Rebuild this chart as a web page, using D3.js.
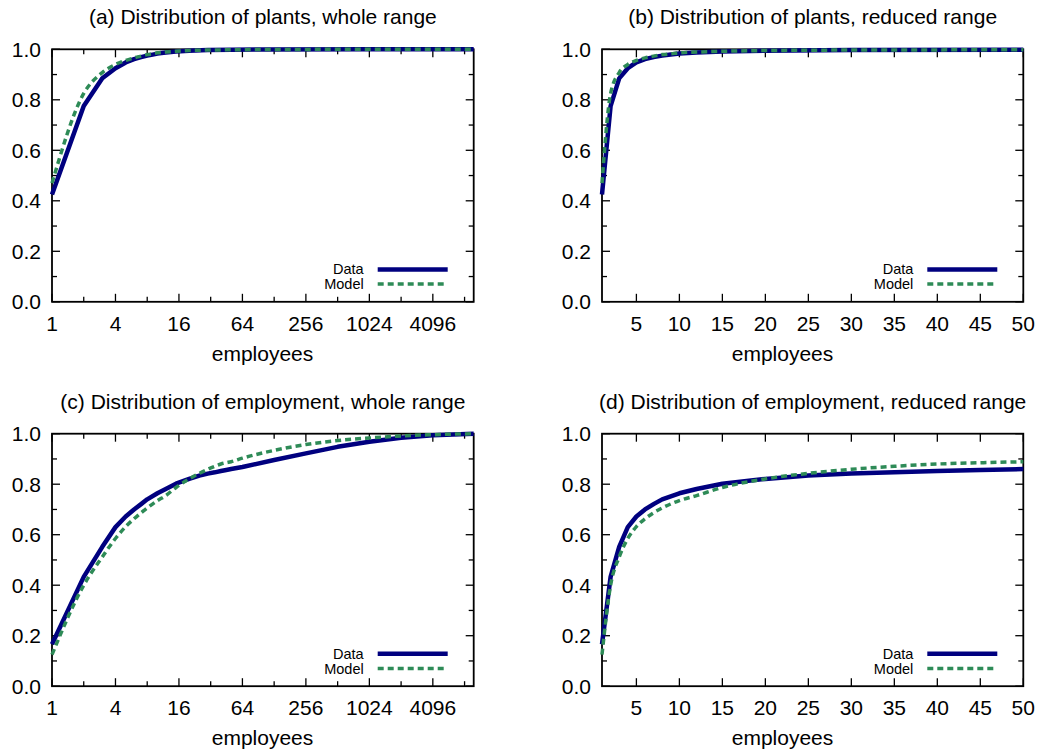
<!DOCTYPE html>
<html>
<head>
<meta charset="utf-8">
<script src="https://cdn.jsdelivr.net/npm/d3@7"></script>
<style>
body { margin: 0; background: #fff; }
text { font-family: "Liberation Sans", Arial, sans-serif; fill: #000; }
</style>
</head>
<body>
<div id="chart"></div>
<script>
// cumulative share of plants by plant size
var plantX     = [1, 2, 3, 4, 5, 6, 7, 8, 9, 10, 12, 15, 20, 30, 50, 100, 1000, 10000];
var plantData  = [0.425, 0.775, 0.885, 0.925, 0.948, 0.961, 0.969, 0.975, 0.979, 0.983, 0.987, 0.991, 0.994, 0.997, 0.998, 0.9993, 0.9999, 1];
var plantModel = [0.47, 0.825, 0.908, 0.94, 0.956, 0.966, 0.973, 0.979, 0.982, 0.986, 0.989, 0.992, 0.995, 0.997, 0.998, 0.9993, 0.9999, 1];

// cumulative share of employment by plant size
var empX     = [1, 2, 3, 4, 5, 6, 7, 8, 10, 12, 15, 20, 25, 30, 35, 40, 45, 50, 64, 128, 256, 512, 1024, 2048, 4096, 10000];
var empData  = [0.166, 0.433, 0.552, 0.630, 0.672, 0.700, 0.721, 0.740, 0.764, 0.781, 0.802, 0.821, 0.834, 0.842, 0.847, 0.852, 0.856, 0.860, 0.868, 0.896, 0.922, 0.948, 0.968, 0.984, 0.994, 1];
var empModel = [0.125, 0.400, 0.512, 0.585, 0.632, 0.663, 0.687, 0.706, 0.735, 0.755, 0.787, 0.821, 0.843, 0.859, 0.871, 0.880, 0.885, 0.889, 0.903, 0.934, 0.957, 0.973, 0.983, 0.991, 0.996, 1];

var logTicks  = [1, 4, 16, 64, 256, 1024, 4096];
var logMinor  = [2, 8, 32, 128, 512, 2048, 8192];
var linTicks  = [5, 10, 15, 20, 25, 30, 35, 40, 45, 50];
var yTicks    = [0, 0.2, 0.4, 0.6, 0.8, 1.0];
var yMinor    = [0.1, 0.3, 0.5, 0.7, 0.9];
var seriesNames = ["Data", "Model"];

var titles = [
	"(a) Distribution of plants, whole range",
	"(b) Distribution of plants, reduced range",
	"(c) Distribution of employment, whole range",
	"(d) Distribution of employment, reduced range"
];

var w = 1040, h = 756;
var navy = "#00007f", green = "#2e8b57";

// no d3-selection-multi here, so a tiny stand-in
function attrs(sel, o){
	for (var k in o) sel.attr(k, o[k]);
	return sel;
}

var svg = d3.select("#chart").append("svg")
	.attr("width", w)
	.attr("height", h);

var panels = [
	{col: 0, top: 49.3,  log: true,  x: plantX, a: plantData, b: plantModel},
	{col: 1, top: 49.3,  log: false, x: plantX, a: plantData, b: plantModel},
	{col: 0, top: 433.7, log: true,  x: empX,   a: empData,   b: empModel},
	{col: 1, top: 433.7, log: false, x: empX,   a: empData,   b: empModel}
];

panels.forEach(function(p, i){
	var left = p.col ? 602 : 52,
		right = p.col ? 1023.3 : 473.7,
		top = p.top,
		bottom = top + 252.5;

	var xScale = p.log
		? d3.scaleLog().base(2).domain([1, 10000]).range([left, right])
		: d3.scaleLinear().domain([1, 50]).range([left, right]);
	var yScale = d3.scaleLinear().domain([0, 1]).range([bottom, top]);

	var g = svg.append("g");

	// ticks inward on all four sides
	var major = p.log ? logTicks : linTicks;
	var minor = p.log ? logMinor : [];
	var tg = g.append("g").attr("stroke", "#000").attr("stroke-width", 1.3);
	function tick(x1, y1, x2, y2){
		attrs(tg.append("line"), {x1: x1, y1: y1, x2: x2, y2: y2});
	}
	major.forEach(function(t){
		var x = xScale(t);
		tick(x, bottom, x, bottom - 8);
		tick(x, top, x, top + 8);
	});
	minor.forEach(function(t){
		var x = xScale(t);
		if (x > right) return;
		tick(x, bottom, x, bottom - 5);
		tick(x, top, x, top + 5);
	});
	yTicks.forEach(function(t){
		var y = yScale(t);
		tick(left, y, left + 8, y);
		tick(right, y, right - 8, y);
	});
	yMinor.forEach(function(t){
		var y = yScale(t);
		tick(left, y, left + 5, y);
		tick(right, y, right - 5, y);
	});

	attrs(g.append("rect"), {
		x: left, y: top, width: right - left, height: bottom - top,
		fill: "none", stroke: "#000", "stroke-width": 1.8
	});

	// tick labels
	major.forEach(function(d){
		attrs(g.append("text"), {x: xScale(d), y: bottom + 29, "text-anchor": "middle", "font-size": 21}).text(d);
	});
	yTicks.forEach(function(d){
		attrs(g.append("text"), {x: left - 11, y: yScale(d) + 7.5, "text-anchor": "end", "font-size": 21}).text(d.toFixed(1));
	});

	attrs(g.append("text"), {x: (left + right) / 2, y: top - 25, "text-anchor": "middle", "font-size": 21})
		.text(titles[i]);
	attrs(g.append("text"), {x: p.col * 520 + 262.5, y: bottom + 59, "text-anchor": "middle", "font-size": 21})
		.text("employees");

	// curves
	var pts = p.x.map(function(x, j){ return {x: x, a: p.a[j], b: p.b[j]}; })
		.filter(function(d){ return p.log || d.x <= 50; });

	var lineA = d3.line().x(function(d){ return xScale(d.x); }).y(function(d){ return yScale(d.a); });
	var lineB = d3.line().curve(d3.curveMonotoneX).x(function(d){ return xScale(d.x); }).y(function(d){ return yScale(d.b); });

	attrs(g.append("path").datum(pts),
		{d: lineA, fill: "none", stroke: navy, "stroke-width": 4.5, "stroke-linejoin": "round"});
	attrs(g.append("path").datum(pts),
		{d: lineB, fill: "none", stroke: green, "stroke-width": 3.5, "stroke-dasharray": "6,4"});

	// legend
	seriesNames.forEach(function(name, k){
		var ly = bottom - (k ? 17.7 : 32.4);
		attrs(g.append("text"), {x: right - 110, y: ly + 5, "text-anchor": "end", "font-size": 14.5})
			.text(name);
		var l = attrs(g.append("line"), {x1: right - 96, x2: right - 26, y1: ly, y2: ly,
			stroke: k ? green : navy, "stroke-width": k ? 3.5 : 4.5});
		if (k) l.attr("stroke-dasharray", "6,4");
	});
});
</script>
</body>
</html>
